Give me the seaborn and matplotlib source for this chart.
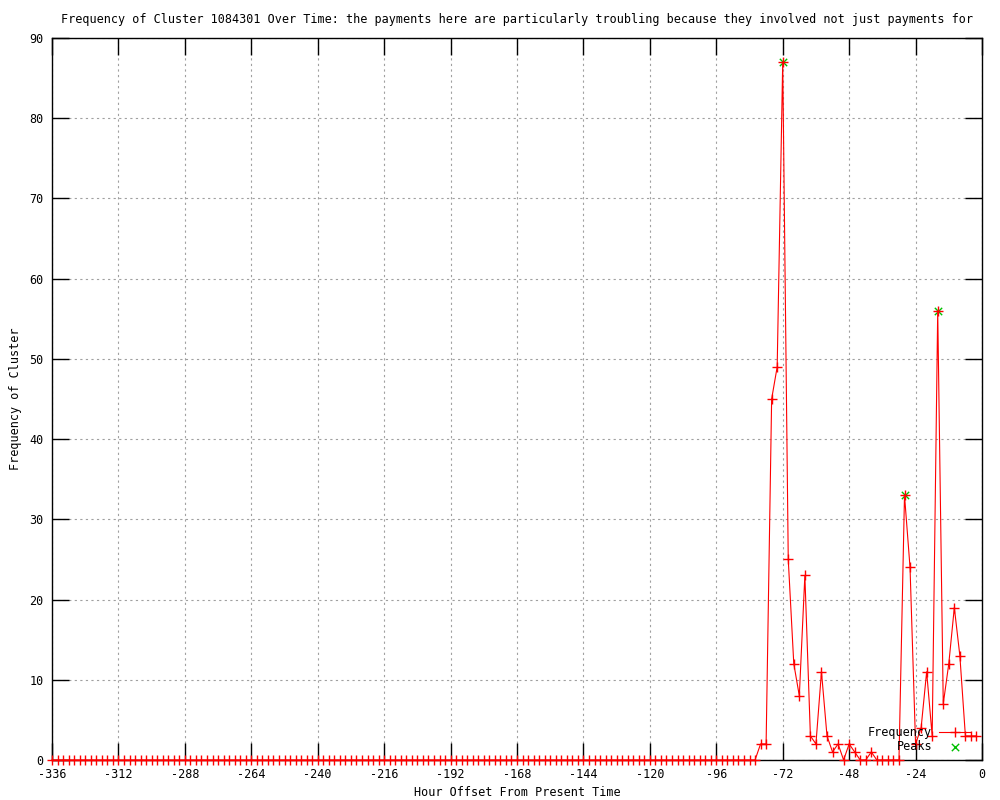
import numpy as np
import seaborn as sns
import matplotlib
matplotlib.use("Agg")
import matplotlib.pyplot as plt

# ore (offset rispetto al presente), passo di 2 ore
hours = list(range(-336, 0, 2))

# frequenza del cluster: zeri fino a -82, poi i valori
freq_zeros = [0, 0, 0, 0, 0, 0, 0, 0, 0, 0, 0, 0, 0, 0, 0, 0, 0, 0, 0, 0,
              0, 0, 0, 0, 0, 0, 0, 0, 0, 0, 0, 0, 0, 0, 0, 0, 0, 0, 0, 0,
              0, 0, 0, 0, 0, 0, 0, 0, 0, 0, 0, 0, 0, 0, 0, 0, 0, 0, 0, 0,
              0, 0, 0, 0, 0, 0, 0, 0, 0, 0, 0, 0, 0, 0, 0, 0, 0, 0, 0, 0,
              0, 0, 0, 0, 0, 0, 0, 0, 0, 0, 0, 0, 0, 0, 0, 0, 0, 0, 0, 0,
              0, 0, 0, 0, 0, 0, 0, 0, 0, 0, 0, 0, 0, 0, 0, 0, 0, 0, 0, 0,
              0, 0, 0, 0, 0, 0, 0, 0]
freq_tail = [2, 2, 45, 49, 87, 25, 12, 8, 23, 3, 2, 11, 3, 1, 2, 0, 2, 1,
             0, 0, 1, 0, 0, 0, 0, 0, 33, 24, 2, 4, 11, 3, 56, 7, 12, 19,
             13, 3, 3, 3]
freq = freq_zeros + freq_tail

peak_hours = [-72, -28, -16]
peak_vals = [87, 33, 56]

plt.rcParams['font.family'] = ['DejaVu Sans Mono']
plt.rcParams['axes.unicode_minus'] = False
plt.rcParams['font.size'] = 8.5

fig = plt.figure(figsize=(10, 8), dpi=100)
ax = fig.add_axes([0.052, 0.05, 0.930, 0.9025])

sns.scatterplot(x=peak_hours, y=peak_vals, ax=ax, marker='x', color='#00c000',
                s=28, linewidth=1, label='Peaks', zorder=3)
sns.lineplot(x=hours, y=freq, ax=ax, color='red', marker='+', markersize=7,
             markeredgewidth=1, markeredgecolor='red', linewidth=0.8,
             clip_on=False, label='Frequency', zorder=4)

ax.set_xlim(-336, 0)
ax.set_ylim(0, 90)
ax.set_xticks(range(-336, 1, 24))
ax.set_yticks(range(0, 91, 10))
ax.grid(True, color='#a0a0a0', linestyle=(0, (2, 3)), linewidth=0.8)
ax.tick_params(direction='in', length=12, width=1, top=True, right=True,
               labelsize=8.5, pad=6)
for s in ax.spines.values():
    s.set_linewidth(1)
    s.set_color('black')

ax.set_title("Frequency of Cluster 1084301 Over Time: the payments here are particularly troubling because they involved not just payments for",
             fontsize=8.5, pad=11)
ax.set_xlabel("Hour Offset From Present Time", fontsize=8.5, labelpad=3)
ax.set_ylabel("Frequency of Cluster", fontsize=8.5, labelpad=5)

handles, labels = ax.get_legend_handles_labels()
order = [labels.index('Frequency'), labels.index('Peaks')]
ax.legend([handles[i] for i in order], [labels[i] for i in order],
          loc='lower right', bbox_to_anchor=(0.970, 1 - 753 / 800),
          bbox_transform=fig.transFigure, frameon=False, markerfirst=False,
          fontsize=8.5, handlelength=2.6, handletextpad=0.6,
          labelspacing=0.1, borderpad=0, borderaxespad=0)

plt.savefig("out.png", dpi=100)
